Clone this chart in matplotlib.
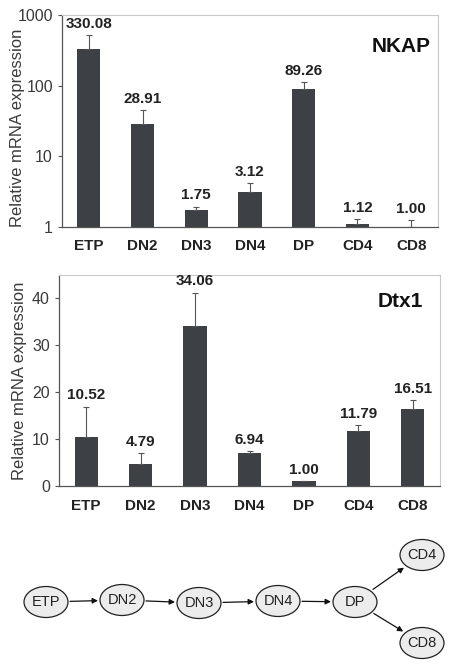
import matplotlib
matplotlib.use("Agg")
import matplotlib.pyplot as plt
from matplotlib.patches import Ellipse
from matplotlib.ticker import NullLocator, FixedLocator

# data
cells = ["ETP", "DN2", "DN3", "DN4", "DP", "CD4", "CD8"]
nkap = [330.08, 28.91, 1.75, 3.12, 89.26, 1.12, 1.00]
nkap_err = [190, 16, 0.19, 1.03, 22, 0.16, 0.26]
dtx1 = [10.52, 4.79, 34.06, 6.94, 1.00, 11.79, 16.51]
dtx1_err = [6.4, 2.2, 7.2, 0.5, 0.1, 1.2, 1.8]

# lineage diagram (pixel layout of the figure)
nodes = ["ETP", "DN2", "DN3", "DN4", "DP", "CD4", "CD8"]
node_x = [46, 122, 199, 278, 355, 422, 422]
node_y = [602, 600, 603, 601, 602, 555, 643]
edges = [(0, 1), (1, 2), (2, 3), (3, 4), (4, 5), (4, 6)]

bar_col = "#3d4044"
txt_col = "#222222"
frame_col = "#c9c9c9"

plt.rcParams["font.family"] = ["Liberation Sans", "DejaVu Sans"]

fig = plt.figure(figsize=(4.52, 6.68), dpi=100)


def style(ax):
    for s in ["top", "right"]:
        ax.spines[s].set_color(frame_col)
    for s in ["left", "bottom"]:
        ax.spines[s].set_color("#555555")
        ax.spines[s].set_linewidth(0.9)
    ax.tick_params(axis="y", labelsize=11.5, colors="#555555", labelcolor="#3a3a3a", length=3)
    ax.tick_params(axis="x", length=0, pad=9)
    ax.set_xticks(range(len(cells)))
    ax.set_xticklabels(cells, fontsize=11, fontweight="bold", color=txt_col)
    ax.set_xlim(-0.5, len(cells) - 0.5)
    ax.set_ylabel("Relative mRNA expression", fontsize=12, color="#3a3a3a")


def bars(ax, vals, errs):
    x = range(len(vals))
    ax.bar(x, vals, width=0.43, color=bar_col, zorder=2)
    ax.errorbar(x, vals, yerr=[[0] * len(vals), errs], fmt="none",
                ecolor="#555555", elinewidth=0.8, capsize=2.5, capthick=0.8, zorder=3)
    for i, (v, e) in enumerate(zip(vals, errs)):
        ax.annotate(f"{v:.2f}", (i, v + e), xytext=(0, 3), textcoords="offset points",
                    ha="center", va="bottom", fontsize=11, fontweight="bold", color=txt_col)


# top panel: NKAP (log)
ax1 = fig.add_axes([62 / 452, 441 / 668, 376 / 452, 212 / 668])
bars(ax1, nkap, nkap_err)
ax1.set_yscale("log")
ax1.set_ylim(1, 1000)
ax1.yaxis.set_major_locator(FixedLocator([1, 10, 100, 1000]))
ax1.yaxis.set_minor_locator(NullLocator())
ax1.set_yticklabels(["1", "10", "100", "1000"])
style(ax1)
ax1.yaxis.set_label_coords(-0.098, 0.47)
ax1.text(0.98, 0.85, "NKAP", transform=ax1.transAxes, ha="right", va="center",
         fontsize=15, fontweight="bold", color="#111111")

# middle panel: Dtx1 (linear)
ax2 = fig.add_axes([59 / 452, 182 / 668, 381 / 452, 211 / 668])
bars(ax2, dtx1, dtx1_err)
ax2.set_ylim(0, 45)
ax2.set_yticks([0, 10, 20, 30, 40])
style(ax2)
ax2.yaxis.set_label_coords(-0.084, 0.5)
ax2.text(0.955, 0.875, "Dtx1", transform=ax2.transAxes, ha="right", va="center",
         fontsize=15, fontweight="bold", color="#111111")

# bottom: lineage diagram
ax3 = fig.add_axes([0, 0, 1, 148 / 668])
ax3.set_xlim(0, 452)
ax3.set_ylim(668, 520)
ax3.axis("off")
ew, eh = 44, 31
for name, x, y in zip(nodes, node_x, node_y):
    ax3.add_patch(Ellipse((x, y), ew, eh, facecolor="#ececec", edgecolor="#222222", lw=0.9))
    ax3.text(x, y, name, ha="center", va="center", fontsize=10.5, color="#222222")
for a, b in edges:
    x0, y0, x1, y1 = node_x[a], node_y[a], node_x[b], node_y[b]
    dx, dy = x1 - x0, y1 - y0
    d = (dx ** 2 + dy ** 2) ** 0.5
    # start/end just outside the ellipses
    s = 24 / d if abs(dy) < 5 else 22 / d
    ax3.annotate("", xy=(x1 - dx * s, y1 - dy * s), xytext=(x0 + dx * s, y0 + dy * s),
                 arrowprops=dict(arrowstyle="-|>", color="#111111", lw=0.9,
                                 mutation_scale=8, shrinkA=0, shrinkB=0))

fig.savefig("out.png", dpi=100)
